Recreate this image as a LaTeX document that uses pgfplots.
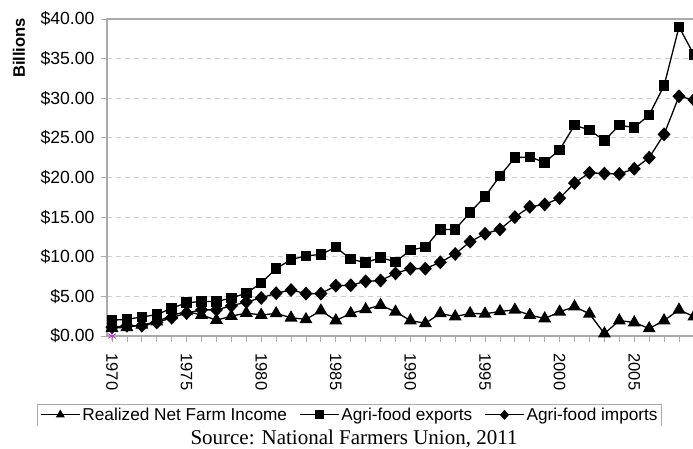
\documentclass[border=0pt]{standalone}
\usepackage{pgfplots}
\usepackage{pgfplotstable}
\pgfplotsset{compat=1.18}
\usepackage{fontspec}
\setmainfont{Liberation Sans}
\newfontfamily\sourcefont{Liberation Serif}

\definecolor{axisgray}{RGB}{170,170,170}
\definecolor{gridgray}{RGB}{205,205,205}
\definecolor{starpurple}{RGB}{170,60,200}

% Realized net farm income, billions of dollars
\pgfplotstableread{
year value
1970 1.0
1971 1.1
1972 1.4
1973 1.8
1974 2.6
1975 3.1
1976 2.65
1977 2.0
1978 2.5
1979 2.9
1980 2.65
1981 2.85
1982 2.3
1983 2.1
1984 3.2
1985 1.95
1986 2.85
1987 3.35
1988 3.9
1989 3.05
1990 1.95
1991 1.6
1992 2.85
1993 2.45
1994 2.85
1995 2.8
1996 3.1
1997 3.3
1998 2.65
1999 2.2
2000 3.05
2001 3.7
2002 2.8
2003 0.3
2004 1.95
2005 1.7
2006 0.95
2007 1.95
2008 3.3
2009 2.45
}\farmincome

% Agri-food exports, billions of dollars
\pgfplotstableread{
year value
1970 2.0
1971 2.1
1972 2.4
1973 2.7
1974 3.5
1975 4.2
1976 4.35
1977 4.35
1978 4.8
1979 5.4
1980 6.7
1981 8.5
1982 9.65
1983 10.1
1984 10.3
1985 11.2
1986 9.7
1987 9.25
1988 9.9
1989 9.35
1990 10.85
1991 11.2
1992 13.45
1993 13.45
1994 15.6
1995 17.6
1996 20.2
1997 22.5
1998 22.6
1999 21.9
2000 23.5
2001 26.6
2002 26.0
2003 24.65
2004 26.6
2005 26.3
2006 27.9
2007 31.6
2008 39.0
2009 35.5
}\exports

% Agri-food imports, billions of dollars
\pgfplotstableread{
year value
1970 1.1
1971 1.3
1972 1.3
1973 1.7
1974 2.3
1975 2.9
1976 3.3
1977 3.3
1978 3.8
1979 4.3
1980 4.8
1981 5.4
1982 5.8
1983 5.35
1984 5.35
1985 6.35
1986 6.4
1987 6.9
1988 7.0
1989 7.9
1990 8.5
1991 8.5
1992 9.3
1993 10.35
1994 11.9
1995 12.9
1996 13.45
1997 15.0
1998 16.3
1999 16.6
2000 17.4
2001 19.3
2002 20.6
2003 20.5
2004 20.45
2005 21.1
2006 22.5
2007 25.45
2008 30.25
2009 29.8
}\imports

\begin{document}
\begin{tikzpicture}
\begin{axis}[
  scale only axis,
  width=591.4pt, height=317pt,
  xmin=1969.665, xmax=2009.3,
  ymin=0, ymax=40,
  clip=false,
  axis line style={axisgray, line width=1.2pt},
  tick style={axisgray, line width=0.8pt},
  tick align=outside,
  major tick length=6pt,
  xtick pos=lower, ytick pos=left,
  xtick={1970,...,2009},
  xticklabels={1970,,,,,1975,,,,,1980,,,,,1985,,,,,1990,,,,,1995,,,,,2000,,,,,2005,,,,},
  xticklabel shift=8pt,
  x tick label style={rotate=-90, anchor=west, font=\fontsize{16.5}{18}\selectfont, text=black},
  ytick={0,5,...,40},
  yticklabels={\$0.00,\$5.00,\$10.00,\$15.00,\$20.00,\$25.00,\$30.00,\$35.00,\$40.00},
  yticklabel shift=3pt,
  y tick label style={font=\fontsize{17.6}{20}\selectfont, text=black},
  ymajorgrids,
  major grid style={gridgray, dash pattern=on 5pt off 4pt, line width=0.8pt},
  legend columns=3,
  legend cell align=left,
  legend style={name=leg, draw=none, fill=white,
    at={(-0.1167,-0.2150)}, anchor=north west,
    font=\fontsize{17.2}{20}\selectfont,
    inner xsep=2pt, inner ysep=1.5pt,
    /tikz/every even column/.append style={column sep=10pt}},
  legend image code/.code={\draw[mark repeat=2,mark phase=2,#1]
    plot coordinates {(0pt,0pt) (19.5pt,0pt) (39pt,0pt)};},
  legend image post style={mark size=4pt},
]
\coordinate (O) at (rel axis cs:0,0);
\addplot[black, line width=1.3pt, mark=triangle*, mark size=6.2pt]
  table[x=year, y=value] {\farmincome};
\addlegendentry{Realized Net Farm Income}
\addplot[black, line width=1.3pt, mark=square*, mark size=4.6pt]
  table[x=year, y=value] {\exports};
\addlegendentry{Agri-food exports}
\addplot[black, line width=1.3pt, mark=diamond*, mark size=6pt, mark options={xscale=1.25}]
  table[x=year, y=value] {\imports};
\addlegendentry{Agri-food imports}
\addplot[starpurple, only marks, mark=asterisk, mark size=4.5pt, line width=0.8pt, forget plot]
  coordinates {(1970,0)};
\end{axis}
% legend frame without its lower edge
\draw[axisgray, line width=1pt] (leg.south west) -- (leg.north west) -- (leg.north east) -- (leg.south east);
\node[rotate=90, font=\bfseries\fontsize{16.6}{18}\selectfont]
  at ([shift={(-88pt,288pt)}]O) {Billions};
\node[anchor=base, font=\sourcefont\fontsize{21}{24}\selectfont, inner sep=0pt]
  at ([shift={(247pt,-108pt)}]O) {Source: National Farmers Union, 2011};
\pgfresetboundingbox
\path[use as bounding box] ([shift={(-107pt,-112pt)}]O) rectangle ([shift={(586pt,336pt)}]O);
\end{tikzpicture}
\end{document}
